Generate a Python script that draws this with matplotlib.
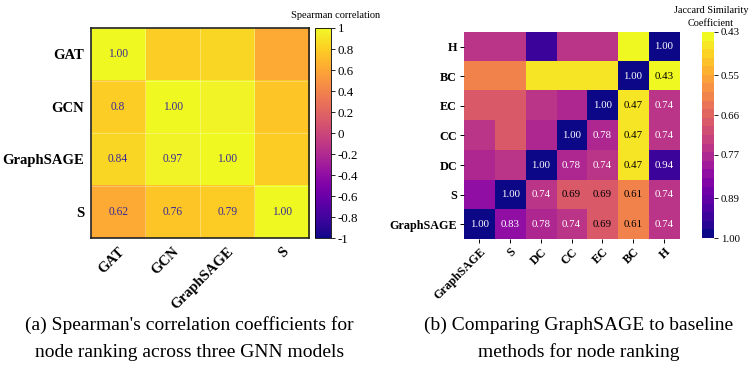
import numpy as np
import matplotlib
matplotlib.use("Agg")
import matplotlib.pyplot as plt
from matplotlib.colors import Normalize
from matplotlib.transforms import ScaledTranslation

plt.rcParams['font.family'] = ['Liberation Serif', 'DejaVu Serif']

# (a) spearman correlation between GNN rankings
gnn_labels = ['GAT', 'GCN', 'GraphSAGE', 'S']
spearman = np.array([
    [1.00, 0.80, 0.84, 0.62],
    [0.80, 1.00, 0.97, 0.76],
    [0.84, 0.97, 1.00, 0.79],
    [0.62, 0.76, 0.79, 1.00],
])
spearman_ticks = [1, 0.8, 0.6, 0.4, 0.2, 0, -0.2, -0.4, -0.6, -0.8, -1]

# (b) jaccard similarity, rows/cols from bottom-left
base_labels = ['GraphSAGE', 'S', 'DC', 'CC', 'EC', 'BC', 'H']
jaccard = np.array([
    [1.00, 0.83, 0.78, 0.74, 0.69, 0.61, 0.74],
    [0.83, 1.00, 0.74, 0.69, 0.69, 0.61, 0.74],
    [0.78, 0.74, 1.00, 0.78, 0.74, 0.47, 0.94],
    [0.74, 0.69, 0.78, 1.00, 0.78, 0.47, 0.74],
    [0.69, 0.69, 0.74, 0.78, 1.00, 0.47, 0.74],
    [0.61, 0.61, 0.47, 0.47, 0.47, 1.00, 0.43],
    [0.74, 0.74, 0.94, 0.74, 0.74, 0.43, 1.00],
])
jaccard_ticks = [0.43, 0.55, 0.66, 0.77, 0.89, 1.00]

fig = plt.figure(figsize=(7.5, 3.66), dpi=100)

# ---------- left heatmap ----------
ax1 = fig.add_axes([0.1213, 0.3497, 0.2907, 0.5738])
cax1 = fig.add_axes([0.420, 0.3497, 0.0213, 0.5738])
cmap1 = plt.get_cmap('plasma')
im1 = ax1.imshow(spearman, cmap=cmap1, vmin=-1, vmax=1, aspect='auto')
n = len(gnn_labels)
for k in range(n + 1):
    ax1.axhline(k - 0.5, color='#ffffff', lw=0.6, alpha=0.35)
    ax1.axvline(k - 0.5, color='#ffffff', lw=0.6, alpha=0.35)
for i in range(n):
    for j in range(i + 1):
        v = spearman[i, j]
        s = '1.00' if v == 1 else '%g' % v
        ax1.text(j, i, s, ha='center', va='center', fontsize=8.3, color='#3a2a95')
ax1.set_xticks(range(n))
ax1.set_yticks(range(n))
ax1.set_yticklabels(gnn_labels, fontsize=10.5, fontweight='bold')
off = ScaledTranslation(12 / 100, 0, fig.dpi_scale_trans)
ax1.set_xticklabels(gnn_labels, fontsize=10.5, fontweight='bold', rotation=45,
                    ha='right', rotation_mode='anchor')
for lab in ax1.get_xticklabels():
    lab.set_transform(lab.get_transform() + off)
ax1.tick_params(length=0, pad=5)
for sp in ax1.spines.values():
    sp.set_linewidth(1.2)
    sp.set_color('#222222')

cb1 = fig.colorbar(im1, cax=cax1)
cb1.set_ticks(spearman_ticks)
cb1.set_ticklabels(['%g' % t for t in spearman_ticks])
cb1.ax.tick_params(labelsize=9.3, length=3, width=0.6, pad=2)
cb1.outline.set_linewidth(0.6)
fig.text(0.447, 0.958, 'Spearman correlation', ha='center', va='center', fontsize=7.5)

# ---------- right heatmap ----------
ax2 = fig.add_axes([0.6187, 0.347, 0.2867, 0.5656])
cax2 = fig.add_axes([0.936, 0.3497, 0.016, 0.5629])
cmap2 = plt.get_cmap('plasma_r').resampled(24)
norm2 = Normalize(vmin=0.43, vmax=1.0)
im2 = ax2.imshow(jaccard, cmap=cmap2, norm=norm2, origin='lower', aspect='auto')
m = len(base_labels)
for i in range(m):
    for j in range(i, m):
        v = jaccard[i, j]
        r, g, b, _ = cmap2(norm2(v))
        lum = 0.299 * r + 0.587 * g + 0.114 * b
        ax2.text(j, i, '%.2f' % v, ha='center', va='center', fontsize=7.8,
                 color='black' if lum > 0.5 else 'white')
ax2.set_xticks(range(m))
ax2.set_yticks(range(m))
ax2.set_yticklabels(base_labels, fontsize=8.7, fontweight='bold')
off2 = ScaledTranslation(9 / 100, 0, fig.dpi_scale_trans)
ax2.set_xticklabels(base_labels, fontsize=8.7, fontweight='bold', rotation=45,
                    ha='right', rotation_mode='anchor')
for lab in ax2.get_xticklabels():
    lab.set_transform(lab.get_transform() + off2)
ax2.tick_params(length=3, width=0.7, pad=2)
for sp in ax2.spines.values():
    sp.set_visible(False)

cb2 = fig.colorbar(im2, cax=cax2)
cb2.set_ticks(jaccard_ticks)
cb2.set_ticklabels(['%.2f' % t for t in jaccard_ticks])
cb2.ax.invert_yaxis()
cb2.ax.tick_params(labelsize=7.8, length=3, width=0.6, pad=2)
cb2.outline.set_visible(False)
fig.text(0.948, 0.972, 'Jaccard Similarity', ha='center', va='center', fontsize=7.4)
fig.text(0.948, 0.937, 'Coefficient', ha='center', va='center', fontsize=7.4)

# captions
fig.text(0.253, 0.112, "(a) Spearman's correlation coefficients for", ha='center', va='center', fontsize=14)
fig.text(0.253, 0.038, 'node ranking across three GNN models', ha='center', va='center', fontsize=14)
fig.text(0.771, 0.112, '(b) Comparing GraphSAGE to baseline', ha='center', va='center', fontsize=14)
fig.text(0.771, 0.038, 'methods for node ranking', ha='center', va='center', fontsize=14)

fig.savefig('out.png', dpi=100)
